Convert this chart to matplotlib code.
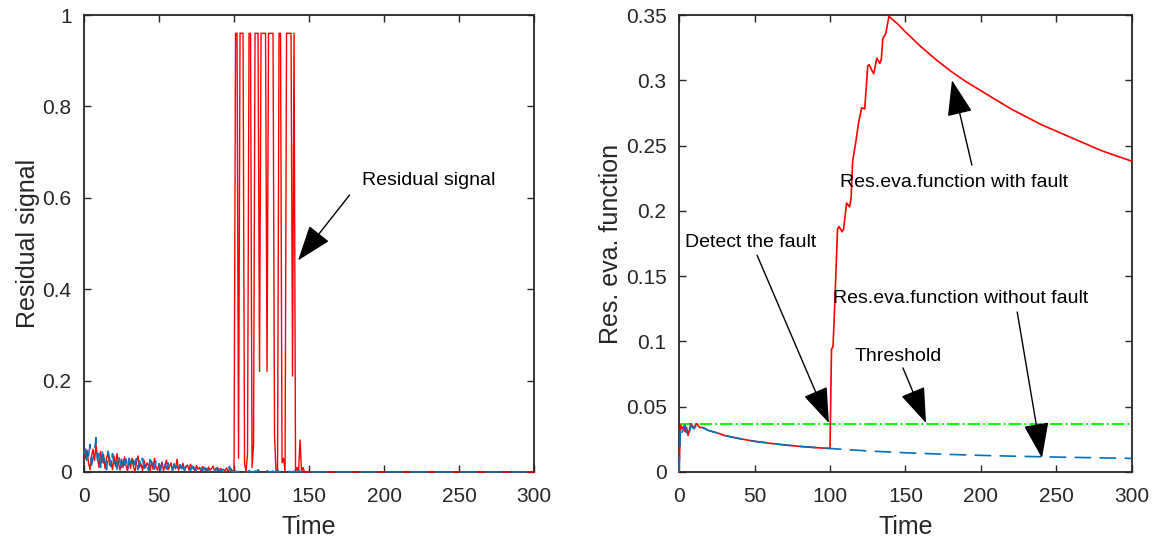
import numpy as np
import matplotlib.pyplot as plt

plt.rcParams['font.family'] = ['Liberation Sans', 'DejaVu Sans']

# ---- left panel: residual signals, one sample per time step ----
red_pre = [
    0.045, 0.030, 0.048, 0.020, 0.005, 0.035, 0.050, 0.025, 0.060, 0.030,
    0.010, 0.045, 0.020, 0.038, 0.008, 0.030, 0.042, 0.015, 0.025, 0.005,
    0.035, 0.012, 0.040, 0.020, 0.004, 0.028, 0.010, 0.033, 0.015, 0.002,
    0.025, 0.008, 0.030, 0.012, 0.000, 0.022, 0.035, 0.010, 0.018, 0.003,
    0.026, 0.009, 0.020, 0.014, 0.000, 0.024, 0.006, 0.030, 0.010, 0.004,
    0.018, 0.008, 0.022, 0.003, 0.015, 0.026, 0.005, 0.012, 0.020, 0.002,
    0.016, 0.007, 0.028, 0.004, 0.013, 0.009, 0.019, 0.002, 0.011, 0.015,
    0.004, 0.017, 0.008, 0.012, 0.000, 0.014, 0.006, 0.010, 0.003, 0.012,
    0.005, 0.009, 0.002, 0.011, 0.004, 0.007, 0.013, 0.003, 0.006, 0.010,
    0.002, 0.008, 0.004, 0.006, 0.001, 0.009, 0.003, 0.005, 0.007, 0.002,
]
red_fault = [
    0.00, 0.96, 0.96, 0.03, 0.96, 0.96, 0.96, 0.02, 0.00, 0.04,
    0.96, 0.96, 0.01, 0.06, 0.96, 0.96, 0.96, 0.22, 0.96, 0.96,
    0.96, 0.96, 0.22, 0.96, 0.96, 0.96, 0.96, 0.08, 0.00, 0.00,
    0.96, 0.96, 0.02, 0.03, 0.00, 0.96, 0.96, 0.96, 0.96, 0.21,
    0.96, 0.00, 0.01, 0.00, 0.07, 0.00, 0.01, 0.00, 0.00, 0.00,
    0.00,
]
blue_pre = [
    0.040, 0.050, 0.020, 0.035, 0.060, 0.015, 0.030, 0.045, 0.075, 0.025,
    0.040, 0.010, 0.050, 0.020, 0.035, 0.005, 0.045, 0.030, 0.012, 0.040,
    0.018, 0.032, 0.006, 0.038, 0.022, 0.010, 0.035, 0.015, 0.028, 0.004,
    0.030, 0.020, 0.008, 0.026, 0.015, 0.032, 0.005, 0.024, 0.012, 0.030,
    0.008, 0.022, 0.016, 0.004, 0.027, 0.010, 0.020, 0.006, 0.025, 0.012,
    0.018, 0.003, 0.022, 0.010, 0.016, 0.006, 0.020, 0.008, 0.014, 0.004,
    0.018, 0.009, 0.013, 0.002, 0.016, 0.007, 0.012, 0.004, 0.015, 0.006,
    0.010, 0.003, 0.013, 0.006, 0.009, 0.002, 0.012, 0.005, 0.008, 0.003,
    0.010, 0.004, 0.007, 0.002, 0.009, 0.005, 0.006, 0.001, 0.008, 0.003,
    0.006, 0.002, 0.005, 0.001, 0.007, 0.003, 0.004, 0.012, 0.002, 0.001,
]
blue_post = [
    0.000, 0.002, 0.000, 0.000, 0.004, 0.000, 0.000, 0.001, 0.000, 0.000,
    0.003, 0.000, 0.000, 0.000, 0.002, 0.000, 0.005, 0.000, 0.000, 0.000,
    0.001, 0.000, 0.003, 0.000, 0.000, 0.000, 0.002, 0.000, 0.000, 0.004,
    0.000, 0.000, 0.000, 0.001, 0.000, 0.000, 0.003, 0.000, 0.000, 0.000,
    0.002, 0.000, 0.000, 0.004, 0.000, 0.000, 0.001, 0.000, 0.000, 0.000,
    0.000,
]
tail_zero = [0.0] * 150

time_left = np.arange(301)
res_fault = np.array(red_pre + red_fault + tail_zero)
res_nofault = np.array(blue_pre + blue_post + tail_zero)

# ---- right panel: residual evaluation function ----
t_early = [0, 1, 2, 3, 4, 5, 6, 7, 8, 9, 10, 11, 12, 13, 14, 16, 19, 25,
           30, 38, 45, 50, 60, 70, 82, 90, 100]
j_early_red = [0.0, 0.036, 0.033, 0.035, 0.031, 0.034, 0.028, 0.033, 0.037,
               0.035, 0.034, 0.036, 0.037, 0.035, 0.034, 0.034, 0.032, 0.030,
               0.028, 0.026, 0.0245, 0.0235, 0.022, 0.0207, 0.0194, 0.0187,
               0.018]
j_early_blue = [0.0, 0.034, 0.030, 0.033, 0.036, 0.029, 0.027, 0.031, 0.036,
                0.034, 0.033, 0.035, 0.036, 0.034, 0.033, 0.034, 0.032, 0.030,
                0.028, 0.026, 0.0245, 0.0235, 0.022, 0.0207, 0.0194, 0.0187,
                0.018]
t_fault = [101, 102, 103, 105, 106, 108, 109, 111, 113, 114, 115, 117, 119,
           121, 123, 125, 126, 128, 129, 131, 133, 134, 135, 136, 137, 139,
           145, 150, 160, 170, 180, 190, 200, 220, 240, 260, 280, 300]
j_fault = [0.094, 0.096, 0.124, 0.186, 0.188, 0.184, 0.186, 0.206, 0.203,
           0.210, 0.238, 0.252, 0.268, 0.279, 0.278, 0.311, 0.312, 0.307,
           0.305, 0.317, 0.313, 0.316, 0.332, 0.334, 0.336, 0.349, 0.343,
           0.337, 0.326, 0.316, 0.307, 0.299, 0.292, 0.278, 0.266, 0.256,
           0.246, 0.238]
t_nofault = [125, 150, 175, 200, 225, 250, 275, 300]
j_nofault = [0.0161, 0.0147, 0.0136, 0.0127, 0.0120, 0.0114, 0.0109, 0.0104]
threshold = 0.037

RED = '#FF0000'
BLUE = '#0072BD'
GREEN = '#00FF00'
AX_COL = '#262626'


def style_axes(ax):
    for s in ax.spines.values():
        s.set_color(AX_COL)
        s.set_linewidth(1.3)
    ax.tick_params(direction='in', top=True, right=True, length=5,
                   width=1.0, color=AX_COL, labelsize=15, labelcolor=AX_COL)
    ax.tick_params(axis='x', pad=11)
    ax.tick_params(axis='y', pad=9)


def arrow(ax, tip, tail):
    ax.annotate('', xy=tip, xytext=tail,
                arrowprops=dict(arrowstyle='-|>,head_length=1.4,head_width=0.5',
                                mutation_scale=16, color='k', lw=1.0,
                                shrinkA=0, shrinkB=0))


fig = plt.figure(figsize=(11.54, 5.44), dpi=100)
ax1 = fig.add_axes([0.0728, 0.1324, 0.390, 0.840])
ax2 = fig.add_axes([0.5884, 0.1324, 0.3925, 0.840])

# left
ax1.plot(time_left, res_fault, color=RED, lw=1.0, zorder=3, clip_on=False)
ax1.plot(time_left, res_nofault, color=BLUE, lw=1.2, dashes=(10, 5),
         zorder=3, clip_on=False)
ax1.set_xlim(0, 300)
ax1.set_ylim(0, 1)
ax1.set_xticks(range(0, 301, 50))
ax1.set_yticks([0, 0.2, 0.4, 0.6, 0.8, 1])
ax1.set_yticklabels(['0', '0.2', '0.4', '0.6', '0.8', '1'])
ax1.set_xlabel('Time', fontsize=18, color=AX_COL, labelpad=6)
ax1.set_ylabel('Residual signal', fontsize=18, color=AX_COL, labelpad=2)
style_axes(ax1)
ax1.text(185.3, 0.637, 'Residual signal', fontsize=14, va='center', ha='left')
arrow(ax1, (142.7, 0.463), (177, 0.606))

# right
ax2.plot(t_early + t_fault, j_early_red + j_fault, color=RED, lw=1.2,
         zorder=3, clip_on=False)
ax2.plot(t_early + t_nofault, j_early_blue + j_nofault, color=BLUE, lw=1.2,
         dashes=(10, 5), zorder=3, clip_on=False)
ax2.axhline(threshold, color=GREEN, lw=1.4, ls='-.')
ax2.set_xlim(0, 300)
ax2.set_ylim(0, 0.35)
ax2.set_xticks(range(0, 301, 50))
y2 = [0, 0.05, 0.1, 0.15, 0.2, 0.25, 0.3, 0.35]
ax2.set_yticks(y2)
ax2.set_yticklabels(['0', '0.05', '0.1', '0.15', '0.2', '0.25', '0.3', '0.35'])
ax2.set_xlabel('Time', fontsize=18, color=AX_COL, labelpad=6)
ax2.set_ylabel('Res. eva. function', fontsize=18, color=AX_COL, labelpad=2)
style_axes(ax2)

ax2.text(106.6, 0.222, 'Res.eva.function with fault', fontsize=14, va='center')
arrow(ax2, (180.8, 0.300), (194, 0.235))
ax2.text(4, 0.176, 'Detect the fault', fontsize=14, va='center')
arrow(ax2, (99.3, 0.0375), (51.7, 0.166))
ax2.text(102, 0.133, 'Res.eva.function without fault', fontsize=14, va='center')
arrow(ax2, (240.4, 0.0107), (224, 0.1225))
ax2.text(116.6, 0.0888, 'Threshold', fontsize=14, va='center')
arrow(ax2, (163.6, 0.0375), (148.3, 0.0797))

fig.savefig('out.png', dpi=100)
